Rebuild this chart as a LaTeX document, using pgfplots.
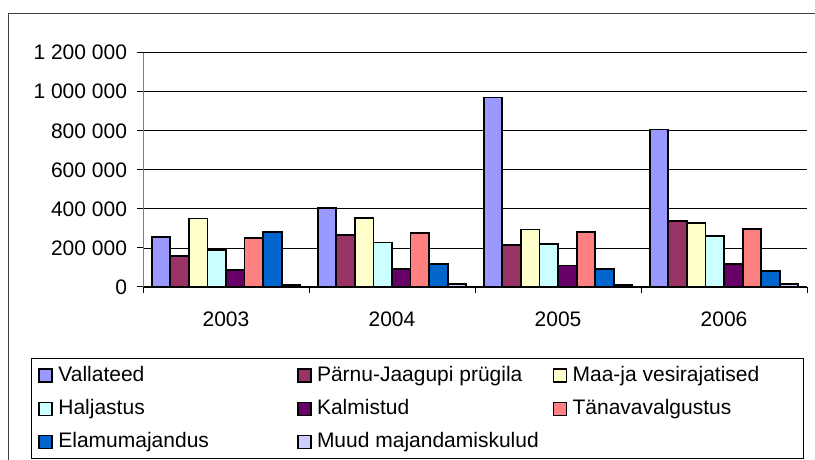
\documentclass[border=0pt]{standalone}
\usepackage{pgfplots}
\pgfplotsset{compat=1.18}
\usepackage{fontspec}
\setmainfont{Liberation Sans}
\definecolor{c1}{HTML}{9999FF}
\definecolor{c2}{HTML}{993366}
\definecolor{c3}{HTML}{FFFFCC}
\definecolor{c4}{HTML}{CCFFFF}
\definecolor{c5}{HTML}{660066}
\definecolor{c6}{HTML}{FF8080}
\definecolor{c7}{HTML}{0066CC}
\definecolor{c8}{HTML}{CCCCFF}
\newcommand{\lf}{\fontsize{21bp}{24bp}\selectfont}
\pgfplotsset{
  myleg/.style={/pgfplots/legend image code/.code={\draw[##1, line width=1.6bp, draw=black] (0bp,-6.5bp) rectangle (13bp,6.5bp);}},
}
\begin{document}
\begin{tikzpicture}[x=1bp,y=1bp]
\useasboundingbox (0,0) rectangle (815,460);
\clip (0,0) rectangle (815,460);
\fill[white] (0,0) rectangle (815,460);
\draw[line width=1bp, black!75] (8.3,446.7) rectangle (830,-10);
\draw[line width=1bp, black] (31.7,101.7) rectangle (803,1);
\begin{axis}[
  at={(143bp,173bp)}, anchor=south west,
  scale only axis, width=664bp, height=234.3bp,
  xmin=-0.5, xmax=3.5, ymin=0, ymax=1200000,
  ybar=0pt, bar width=0.112,
  axis lines*=left,
  x axis line style={black, line width=1bp},
  y axis line style={black!50, line width=1bp},
  tick align=outside,
  major tick length=6.5bp,
  tick style={black, line width=1bp},
  xtick={-0.5,0.5,1.5,2.5,3.5},
  xticklabels={},
  extra x ticks={0,1,2,3},
  extra x tick labels={2003,2004,2005,2006},
  extra x tick style={major tick length=0pt, xticklabel style={yshift=-21bp}},
  ytick={0,200000,400000,600000,800000,1000000,1200000},
  yticklabels={0,200~000,400~000,600~000,800~000,1~000~000,1~200~000},
  scaled y ticks=false,
  /pgf/number format/assume math mode=true,
  tick label style={font=\lf},
  yticklabel style={anchor=east, xshift=-6bp},
  ymajorgrids,
  major grid style={black, line width=0.8bp},
  legend columns=3,
  legend cell align=left,
  legend style={draw=none, fill=none, at={(-0.15768,-0.3077)}, anchor=north west,
    inner sep=0pt, outer sep=0pt, font=\lf,
    nodes={inner xsep=5.5bp, inner ysep=7.1bp, text height=15bp, text depth=4bp},
    /tikz/column sep=0bp, /tikz/row sep=0bp},
]
\addplot[myleg, fill=c1, draw=black, line width=1.8bp] coordinates {(0,256000) (1,405000) (2,971000) (3,807000)};
\addlegendentry{\makebox[233bp][l]{Vallateed}}
\addplot[myleg, fill=c2, draw=black, line width=1.8bp] coordinates {(0,157000) (1,265000) (2,214000) (3,340000)};
\addlegendentry{\makebox[230bp][l]{Pärnu-Jaagupi prügila}}
\addplot[myleg, fill=c3, draw=black, line width=1.8bp] coordinates {(0,351000) (1,354000) (2,294000) (3,328000)};
\addlegendentry{Maa-ja vesirajatised}
\addplot[myleg, fill=c4, draw=black, line width=1.8bp] coordinates {(0,188000) (1,228000) (2,222000) (3,260000)};
\addlegendentry{\makebox[233bp][l]{Haljastus}}
\addplot[myleg, fill=c5, draw=black, line width=1.8bp] coordinates {(0,89000) (1,91000) (2,110000) (3,116000)};
\addlegendentry{\makebox[230bp][l]{Kalmistud}}
\addplot[myleg, fill=c6, draw=black, line width=1.8bp] coordinates {(0,251000) (1,275000) (2,280000) (3,299000)};
\addlegendentry{Tänavavalgustus}
\addplot[myleg, fill=c7, draw=black, line width=1.8bp] coordinates {(0,282000) (1,116000) (2,91000) (3,81000)};
\addlegendentry{\makebox[233bp][l]{Elamumajandus}}
\addplot[myleg, fill=c8, draw=black, line width=1.8bp] coordinates {(0,9000) (1,14000) (2,10000) (3,15000)};
\addlegendentry{\makebox[230bp][l]{Muud majandamiskulud}}
\end{axis}
\end{tikzpicture}
\end{document}
